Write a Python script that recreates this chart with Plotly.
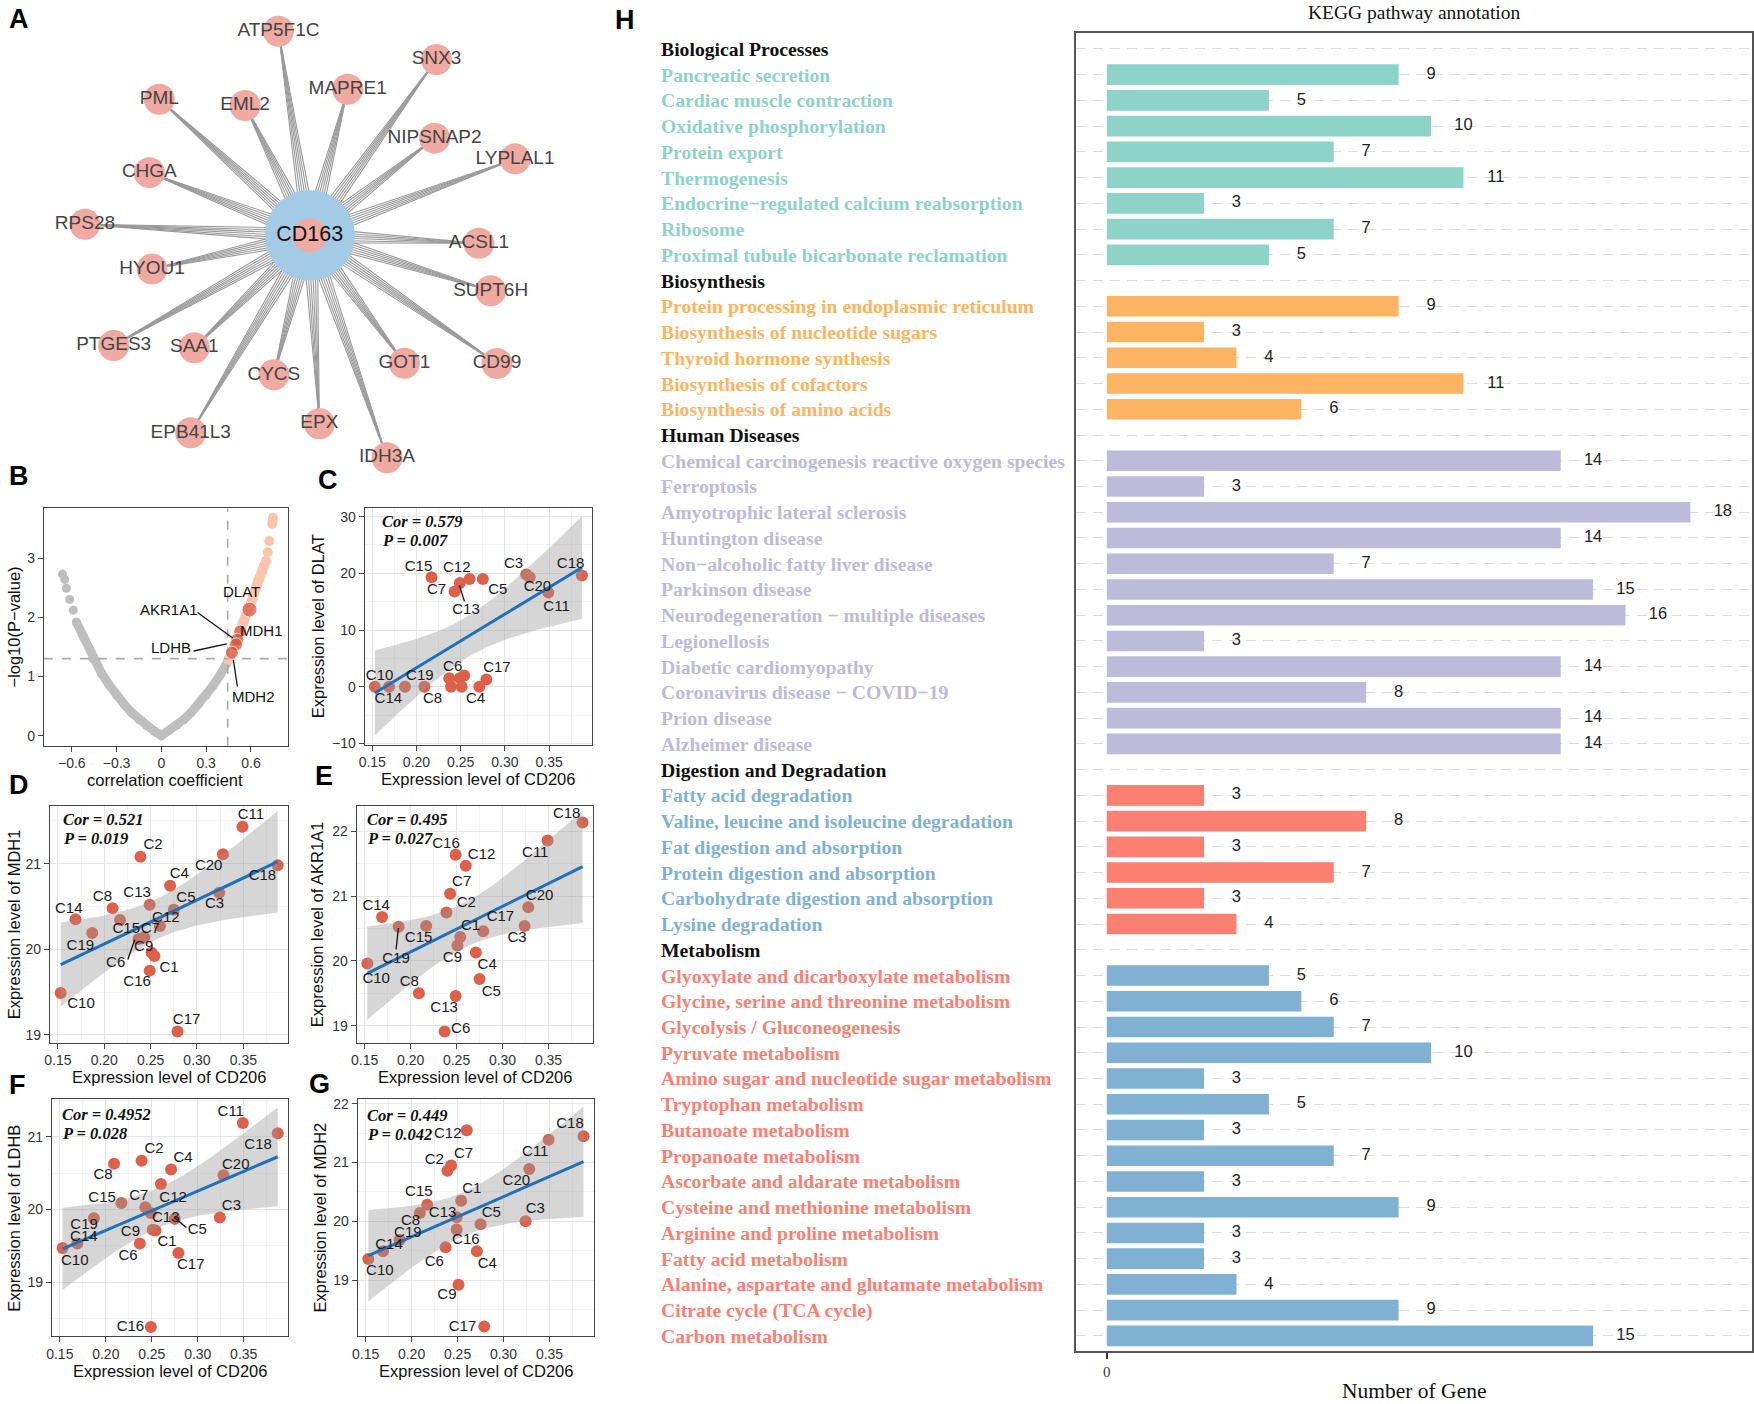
import numpy as np
import plotly.graph_objects as go

W, H = 1754, 1404
SANS = "Liberation Sans, Arial, sans-serif"
SERIF = "Liberation Serif, Times New Roman, serif"

# ---------------- Panel A: interaction network ----------------
hub_gene = "CD163"
partner_genes = ["ATP5F1C", "SNX3", "MAPRE1", "PML", "EML2", "NIPSNAP2", "LYPLAL1", "CHGA",
                 "RPS28", "ACSL1", "HYOU1", "SUPT6H", "PTGES3", "SAA1", "CYCS", "GOT1",
                 "CD99", "EPX", "EPB41L3", "IDH3A"]
partner_angle_deg = [98.7, 54.3, 75.5, 137.8, 116.4, 38.0, 20.5, 158.6, 177.2, -2.7, -167.9,
                     -17.1, -150.6, -135.7, -104.4, -53.6, -34.5, -87.1, -121.0, -70.9]
partner_distance = [208, 218, 152, 204, 146, 159, 220, 173, 226, 170, 162, 190, 226, 162,
                    145, 160, 228, 190, 232, 237]

# ---------------- Panel B: correlation volcano ----------------
grey_dense_r = [-0.57, -0.52, -0.46, -0.40, -0.35, -0.30, -0.25, -0.20, -0.15, -0.10, -0.05, 0.0,
                0.05, 0.10, 0.15, 0.20, 0.25, 0.30, 0.35, 0.40, 0.45]
grey_dense_y = [1.92, 1.66, 1.30, 1.05, 0.86, 0.68, 0.53, 0.39, 0.27, 0.17, 0.08, 0.0,
                0.08, 0.17, 0.27, 0.39, 0.53, 0.68, 0.86, 1.05, 1.28]
grey_sparse_r = [-0.662, -0.647, -0.636, -0.614, -0.590]
grey_sparse_y = [2.73, 2.64, 2.49, 2.30, 2.12]
pink_dense_r = [0.45, 0.50, 0.55, 0.60, 0.65, 0.69]
pink_dense_y = [1.28, 1.58, 1.90, 2.25, 2.62, 2.88]
pink_sparse_r = [0.700, 0.712, 0.722, 0.742, 0.745, 0.748]
pink_sparse_y = [2.95, 3.10, 3.29, 3.58, 3.62, 3.68]
hit_genes = ["DLAT", "MDH1", "AKR1A1", "LDHB", "MDH2"]
hit_r = [0.590, 0.528, 0.508, 0.500, 0.472]
hit_logp = [2.13, 1.76, 1.62, 1.54, 1.40]
r_cutoff = 0.444
logp_cutoff = 1.301

# ---------------- Panels C-G: sample-level correlations ----------------
samples = ["C%d" % i for i in range(1, 21)]
cd206 = [0.254, 0.239, 0.324, 0.271, 0.275, 0.237, 0.243, 0.209, 0.251, 0.153,
         0.349, 0.260, 0.249, 0.169, 0.217, 0.249, 0.279, 0.387, 0.187, 0.328]
dlat = [2.0, 0.0, 19.8, 0.0, 19.0, 1.5, 16.8, 0.0, 0.0, 0.0,
        16.6, 19.0, 18.3, 0.0, 19.3, 1.5, 1.3, 19.6, 0.0, 19.3]
mdh1 = [19.92, 21.08, 20.66, 20.74, 20.46, 20.12, 20.14, 20.48, 19.96, 19.49,
        21.43, 20.27, 20.52, 20.35, 20.34, 19.75, 19.04, 20.98, 20.19, 21.11]
akr1a1 = [20.37, 20.75, 20.54, 20.13, 19.72, 18.91, 21.04, 19.50, 20.24, 19.96,
          21.86, 21.47, 19.46, 20.68, 20.54, 21.64, 20.46, 22.14, 20.53, 20.83]
ldhb = [19.71, 20.67, 19.89, 20.55, 19.87, 19.53, 20.03, 20.63, 19.72, 19.47,
        21.19, 20.35, 19.95, 19.53, 20.09, 18.38, 19.40, 21.05, 19.88, 20.47]
mdh2 = [20.35, 20.86, 20.00, 19.49, 19.95, 19.56, 20.95, 20.14, 18.92, 19.36,
        21.39, 21.55, 20.07, 19.49, 20.28, 19.86, 18.21, 21.45, 19.68, 20.89]
cor_texts = ["Cor = 0.579", "Cor = 0.521", "Cor = 0.495", "Cor = 0.4952", "Cor = 0.449"]
p_texts = ["P = 0.007", "P = 0.019", "P = 0.027", "P = 0.028", "P = 0.042"]

# ---------------- Panel H: KEGG annotation ----------------
group_names = ["Biological Processes", "Biosynthesis", "Human Diseases",
               "Digestion and Degradation", "Metabolism"]
bp_terms = ["Pancreatic secretion", "Cardiac muscle contraction", "Oxidative phosphorylation",
            "Protein export", "Thermogenesis", "Endocrine\u2212regulated calcium reabsorption",
            "Ribosome", "Proximal tubule bicarbonate reclamation"]
bp_counts = [9, 5, 10, 7, 11, 3, 7, 5]
bio_terms = ["Protein processing in endoplasmic reticulum", "Biosynthesis of nucleotide sugars",
             "Thyroid hormone synthesis", "Biosynthesis of cofactors", "Biosynthesis of amino acids"]
bio_counts = [9, 3, 4, 11, 6]
hd_terms = ["Chemical carcinogenesis reactive oxygen species", "Ferroptosis",
            "Amyotrophic lateral sclerosis", "Huntington disease",
            "Non\u2212alcoholic fatty liver disease", "Parkinson disease",
            "Neurodegeneration \u2212 multiple diseases", "Legionellosis",
            "Diabetic cardiomyopathy", "Coronavirus disease \u2212 COVID\u221219",
            "Prion disease", "Alzheimer disease"]
hd_counts = [14, 3, 18, 14, 7, 15, 16, 3, 14, 8, 14, 14]
dd_terms = ["Fatty acid degradation", "Valine, leucine and isoleucine degradation",
            "Fat digestion and absorption", "Protein digestion and absorption",
            "Carbohydrate digestion and absorption", "Lysine degradation"]
dd_counts = [3, 8, 3, 7, 3, 4]
met_terms = ["Glyoxylate and dicarboxylate metabolism", "Glycine, serine and threonine metabolism",
             "Glycolysis / Gluconeogenesis", "Pyruvate metabolism",
             "Amino sugar and nucleotide sugar metabolism", "Tryptophan metabolism",
             "Butanoate metabolism", "Propanoate metabolism", "Ascorbate and aldarate metabolism",
             "Cysteine and methionine metabolism", "Arginine and proline metabolism",
             "Fatty acid metabolism", "Alanine, aspartate and glutamate metabolism",
             "Citrate cycle (TCA cycle)", "Carbon metabolism"]
met_counts = [5, 6, 7, 10, 3, 5, 3, 7, 3, 9, 3, 3, 4, 9, 15]

# ---------------- styles ----------------
TEAL, ORANGE, LAV, SALMON, BLUEG = "#8DD3C7", "#FDB462", "#BEBADA", "#FB8072", "#80B1D3"
group_terms = [bp_terms, bio_terms, hd_terms, dd_terms, met_terms]
group_counts = [bp_counts, bio_counts, hd_counts, dd_counts, met_counts]
bar_colors = [TEAL, ORANGE, LAV, SALMON, BLUEG]
label_colors = [TEAL, ORANGE, LAV, BLUEG, SALMON]
POINT = "#DE5F4A"
LINE_BLUE = "#1F72B8"


def xd(a, b):
    return [a / W, b / W]


def yd(a, b):
    return [1 - b / H, 1 - a / H]


def PX(x):
    return x / W


def PY(y):
    return 1 - y / H


def paper_text(x, y, text, font, angle=0, xanchor="center", align="center"):
    return dict(x=PX(x), y=PY(y), xref="paper", yref="paper", text=text, showarrow=False,
                xanchor=xanchor, yanchor="middle", textangle=angle, font=font, align=align)


fig = go.Figure()
axes = {}
ann = []
shapes = []

# ================= Panel A =================
ang = np.radians(partner_angle_deg)
dist = np.array(partner_distance, dtype=float)
nx = dist * np.cos(ang)
ny = dist * np.sin(ang)
ex, ey = [], []
for x1, y1 in zip(nx, ny):
    L = np.hypot(x1, y1)
    ux, uy = x1 / L, y1 / L
    qx, qy = -uy, ux
    for o in (-6, -3.6, -1.2, 1.2, 3.6, 6):
        ex += [x1, ux * 38 + qx * o, None]
        ey += [y1, uy * 38 + qy * o, None]
fig.add_trace(go.Scatter(x=ex, y=ey, mode="lines", line=dict(color="#999999", width=1.1),
                         xaxis="x", yaxis="y", hoverinfo="skip"))
fig.add_trace(go.Scatter(x=[0], y=[0], mode="markers", marker=dict(size=90, color="#A3CBE6"),
                         xaxis="x", yaxis="y", hoverinfo="skip"))
fig.add_trace(go.Scatter(x=[0], y=[0], mode="markers+text", text=[hub_gene],
                         marker=dict(size=34, color="#F0AAA2"),
                         textfont=dict(family=SANS, size=21.5, color="#111"),
                         textposition="middle center", xaxis="x", yaxis="y"))
fig.add_trace(go.Scatter(x=nx, y=ny, mode="markers+text", text=partner_genes,
                         marker=dict(size=31, color="#F0AAA2"),
                         textfont=dict(family=SANS, size=19, color="#444"),
                         textposition="middle center", xaxis="x", yaxis="y", cliponaxis=False))
axes["xaxis"] = dict(domain=xd(0, 560), range=[-305, 255], visible=False, anchor="y")
axes["yaxis"] = dict(domain=yd(0, 480), range=[-246, 234], visible=False, anchor="x")

# ================= Panel B =================
fig.add_trace(go.Scatter(x=grey_dense_r, y=grey_dense_y, mode="lines+markers",
                         line=dict(color="#BEBEBE", width=9), marker=dict(size=9, color="#BEBEBE"),
                         xaxis="x2", yaxis="y2"))
fig.add_trace(go.Scatter(x=grey_sparse_r, y=grey_sparse_y, mode="markers",
                         marker=dict(size=9, color="#BEBEBE"), xaxis="x2", yaxis="y2"))
fig.add_trace(go.Scatter(x=pink_dense_r, y=pink_dense_y, mode="lines+markers",
                         line=dict(color="#FCC4AC", width=10), marker=dict(size=10, color="#FCC4AC"),
                         xaxis="x2", yaxis="y2"))
fig.add_trace(go.Scatter(x=pink_sparse_r, y=pink_sparse_y, mode="markers",
                         marker=dict(size=10, color="#FCC4AC"), xaxis="x2", yaxis="y2"))
fig.add_trace(go.Scatter(x=[-0.787, 0.847], y=[logp_cutoff] * 2, mode="lines",
                         line=dict(color="#AAAAAA", width=1.6, dash="dash"), xaxis="x2", yaxis="y2"))
fig.add_trace(go.Scatter(x=[r_cutoff] * 2, y=[-0.17, 3.84], mode="lines",
                         line=dict(color="#AAAAAA", width=1.6, dash="dash"), xaxis="x2", yaxis="y2"))
fig.add_trace(go.Scatter(x=hit_r, y=hit_logp, mode="markers",
                         marker=dict(size=[15, 13, 13, 13, 13], color="#D9533D"),
                         xaxis="x2", yaxis="y2"))
b_lab = {"DLAT": (0.538, 2.43), "AKR1A1": (0.049, 2.13), "LDHB": (0.065, 1.49),
         "MDH1": (0.671, 1.77), "MDH2": (0.616, 0.66)}
for g in hit_genes:
    ann.append(dict(x=b_lab[g][0], y=b_lab[g][1], xref="x2", yref="y2", text=g, showarrow=False,
                    xanchor="center", yanchor="middle",
                    font=dict(family=SANS, size=15, color="#111")))
for (a, b, c, d) in [(0.242, 2.08, 0.478, 1.65), (0.216, 1.43, 0.438, 1.55), (0.482, 1.28, 0.509, 0.83)]:
    shapes.append(dict(type="line", xref="x2", yref="y2", x0=a, y0=b, x1=c, y1=d,
                       line=dict(color="#111", width=1.3)))
common_axis = dict(showline=True, mirror=True, linecolor="#444", linewidth=1, ticks="outside",
                   ticklen=5, tickcolor="#444", tickfont=dict(family=SANS, size=14, color="#333"),
                   zeroline=False)
axes["xaxis2"] = dict(domain=xd(38, 283), range=[-0.787, 0.847], anchor="y2", showgrid=False,
                      tickvals=[-0.6, -0.3, 0, 0.3, 0.6], **common_axis)
axes["yaxis2"] = dict(domain=yd(509, 748), range=[-0.17, 3.84], anchor="x2", showgrid=False,
                      tickvals=[0, 1, 2, 3], **common_axis)
TITLE_FONT = dict(family=SANS, size=16.5, color="#111")
ann.append(paper_text(160, 783, "correlation coefficient", TITLE_FONT))
ann.append(paper_text(8, 628, "\u2212log10(P\u2212value)", TITLE_FONT, angle=-90))

# ================= Panels C-G =================
LAB_C = [None, None, (0.3098, 21.65), (0.2667, -2.17), (0.292, 17.09), (0.2409, 3.49),
         (0.2227, 17.09), (0.2182, -2.17), None, (0.1583, 1.91), (0.3583, 14.06), (0.2455, 20.95),
         (0.256, 13.47), (0.1682, -2.17), (0.2023, 21.07), None, (0.2909, 3.26), (0.3742, 21.53),
         (0.2038, 1.91), (0.3367, 17.56)]
LAB_D = [(0.2699, 19.78), (0.2527, 21.22), (0.319, 20.52), (0.281, 20.87), (0.2881, 20.59),
         (0.2123, 19.84), (0.2496, 20.23), (0.198, 20.61), (0.2425, 20.02), (0.1749, 19.36),
         (0.3582, 21.56), (0.2664, 20.36), (0.2354, 20.65), (0.1617, 20.47), (0.2237, 20.23),
         (0.2354, 19.61), (0.2888, 19.17), (0.3706, 20.85), (0.1742, 20.04), (0.3126, 20.97)]
LAB_E = [(0.2653, 20.54), (0.2606, 20.89), (0.3158, 20.35), (0.2833, 19.94), (0.2877, 19.51),
         (0.2545, 18.95), (0.2556, 21.22), (0.1986, 19.67), (0.2455, 20.04), (0.1626, 19.72),
         (0.3356, 21.66), (0.2772, 21.64), (0.2365, 19.27), (0.1626, 20.85), (0.2087, 20.35),
         (0.2385, 21.81), (0.2977, 20.67), (0.3698, 22.27), (0.1842, 20.03), (0.3403, 21.0)]
LAB_F = [(0.2667, 19.55), (0.2525, 20.83), (0.3366, 20.04), (0.2841, 20.70), (0.2996, 19.71),
         (0.2243, 19.36), (0.2359, 20.18), (0.1971, 20.47), (0.2268, 19.68), (0.1663, 19.28),
         (0.3359, 21.34), (0.2732, 20.16), (0.2652, 19.88), (0.1761, 19.62), (0.196, 20.16),
         (0.2268, 18.37), (0.2924, 19.23), (0.3656, 20.89), (0.1764, 19.78), (0.3413, 20.61)]
LAB_G = [(0.2655, 20.55), (0.2248, 21.04), (0.3345, 20.2), (0.2824, 19.27), (0.2867, 20.14),
         (0.2248, 19.31), (0.2565, 21.14), (0.1989, 20.0), (0.2385, 18.74), (0.1655, 19.15),
         (0.3345, 21.18), (0.2394, 21.49), (0.2338, 20.14), (0.1755, 19.6), (0.2079, 20.49),
         (0.259, 19.68), (0.2554, 18.2), (0.3723, 21.65), (0.196, 19.8), (0.314, 20.69)]

panels = [
    dict(k=3, box=(360, 588, 509, 747), y=dlat, yr=[-10.2, 31.45], yt=[-10, 0, 10, 20, 30],
         ym=[-5, 5, 15, 25], ylab="Expression level of DLAT", lab=LAB_C,
         segs=[(0.2485, 17.85, 0.2542, 15.05)], cor=(375, 522), ylx=313),
    dict(k=4, box=(44, 283, 809, 1047), y=mdh1, yr=[18.91, 21.67], yt=[19, 20, 21],
         ym=[19.5, 20.5, 21.5], ylab="Expression level of MDH1", lab=LAB_D,
         segs=[(0.2254, 19.88, 0.2329, 20.11)], cor=(55, 822), ylx=8),
    dict(k=5, box=(352, 589, 809, 1047), y=akr1a1, yr=[18.74, 22.39], yt=[19, 20, 21, 22],
         ym=[19.5, 20.5, 21.5], ylab="Expression level of AKR1A1", lab=LAB_E,
         segs=[(0.1868, 20.51, 0.1842, 20.18)], cor=(360, 822), ylx=313),
    dict(k=6, box=(46, 283, 1104, 1343), y=ldhb, yr=[18.25, 21.52], yt=[19, 20, 21],
         ym=[18.5, 19.5, 20.5, 21.5], ylab="Expression level of LDHB", lab=LAB_F,
         segs=[(0.2743, 19.89, 0.2877, 19.75)], cor=(54, 1119), ylx=8),
    dict(k=7, box=(353, 590, 1104, 1343), y=mdh2, yr=[18.04, 22.08], yt=[19, 20, 21, 22],
         ym=[18.5, 19.5, 20.5, 21.5], ylab="Expression level of MDH2", lab=LAB_G,
         segs=[], cor=(360, 1120), ylx=315),
]
XR = [0.1413, 0.3980]
XT = [0.15, 0.20, 0.25, 0.30, 0.35]


def fit_band(x, y, n=80):
    x = np.asarray(x, float)
    y = np.asarray(y, float)
    b1, b0 = np.polyfit(x, y, 1)
    xs = np.linspace(x.min(), x.max(), n)
    yhat = b0 + b1 * xs
    res = y - (b0 + b1 * x)
    s = np.sqrt(np.sum(res ** 2) / (len(x) - 2))
    sxx = np.sum((x - x.mean()) ** 2)
    se = s * np.sqrt(1 / len(x) + (xs - x.mean()) ** 2 / sxx)
    t = 2.100922
    return xs, yhat, yhat - t * se, yhat + t * se


COR_FONT = dict(family=SERIF, size=16.5, color="#111")
for i, cfg in enumerate(panels):
    k = cfg["k"]
    xa, ya = "x%d" % k, "y%d" % k
    x0, x1, y0, y1 = cfg["box"]
    fig.add_trace(go.Scatter(x=cd206, y=cfg["y"], mode="markers",
                             marker=dict(size=12, color=POINT), xaxis=xa, yaxis=ya))
    xs, yhat, lo, hi = fit_band(cd206, cfg["y"])
    fig.add_trace(go.Scatter(x=np.concatenate([xs, xs[::-1]]), y=np.concatenate([hi, lo[::-1]]),
                             mode="lines", fill="toself", fillcolor="rgba(153,153,153,0.4)",
                             line=dict(width=0), xaxis=xa, yaxis=ya, hoverinfo="skip"))
    fig.add_trace(go.Scatter(x=xs, y=yhat, mode="lines", line=dict(color=LINE_BLUE, width=3),
                             xaxis=xa, yaxis=ya))
    lx = [p[0] for p in cfg["lab"] if p]
    ly = [p[1] for p in cfg["lab"] if p]
    lt = [s for s, p in zip(samples, cfg["lab"]) if p]
    fig.add_trace(go.Scatter(x=lx, y=ly, text=lt, mode="text", cliponaxis=False,
                             textfont=dict(family=SANS, size=15, color="#1A1A1A"),
                             xaxis=xa, yaxis=ya))
    for (a, b, c, d) in cfg["segs"]:
        shapes.append(dict(type="line", xref=xa, yref=ya, x0=a, y0=b, x1=c, y1=d,
                           line=dict(color="#111", width=1.3)))
    grid = dict(showgrid=True, gridcolor="#E6E6E6", gridwidth=1)
    axes["xaxis%d" % k] = dict(domain=xd(x0, x1), range=XR, anchor=ya, tickvals=XT,
                               ticktext=["0.15", "0.20", "0.25", "0.30", "0.35"],
                               minor=dict(tickvals=[0.175, 0.225, 0.275, 0.325, 0.375],
                                          showgrid=True, gridcolor="#F3F3F3"),
                               **grid, **common_axis)
    axes["yaxis%d" % k] = dict(domain=yd(y0, y1), range=cfg["yr"], anchor=xa, tickvals=cfg["yt"],
                               minor=dict(tickvals=cfg["ym"], showgrid=True, gridcolor="#F3F3F3"),
                               **grid, **common_axis)
    cxp, cyp = cfg["cor"]
    ann.append(paper_text(cxp, cyp, "<b><i>%s</i></b>" % cor_texts[i], COR_FONT, xanchor="left"))
    ann.append(paper_text(cxp, cyp + 19.5, "<b><i>%s</i></b>" % p_texts[i], COR_FONT,
                          xanchor="left"))
    ann.append(paper_text((x0 + x1) / 2, y1 + 35, "Expression level of CD206", TITLE_FONT))
    ann.append(paper_text(cfg["ylx"], (y0 + y1) / 2, cfg["ylab"], TITLE_FONT, angle=-90))

# ================= Panel H =================
row_y, row_val, row_bc = [], [], []
row = 0
LABEL_X = 656
for gi, gname in enumerate(group_names):
    ann.append(dict(x=PX(LABEL_X), y=row, xref="paper", yref="y8", xanchor="left",
                    yanchor="middle", text="<b>%s</b>" % gname, showarrow=False,
                    font=dict(family=SERIF, size=19.7, color="#111")))
    row += 1
    for term, cnt in zip(group_terms[gi], group_counts[gi]):
        ann.append(dict(x=PX(LABEL_X), y=row, xref="paper", yref="y8", xanchor="left",
                        yanchor="middle", text="<b>%s</b>" % term, showarrow=False,
                        font=dict(family=SERIF, size=19.7, color=label_colors[gi])))
        row_y.append(row)
        row_val.append(cnt)
        row_bc.append(bar_colors[gi])
        row += 1
n_rows = row
fig.add_trace(go.Bar(x=row_val, y=row_y, orientation="h", width=0.8,
                     marker=dict(color=row_bc, line=dict(width=0)), xaxis="x8", yaxis="y8"))
fig.add_trace(go.Scatter(x=[v + 1 for v in row_val], y=row_y, text=[str(v) for v in row_val],
                         mode="text", textfont=dict(family=SANS, size=16.5, color="#222"),
                         xaxis="x8", yaxis="y8", cliponaxis=False))
axes["xaxis8"] = dict(domain=xd(1074.6, 1753), range=[-0.94, 19.9], anchor="y8", tickvals=[0],
                      ticktext=["0"], ticks="outside", ticklen=6, tickwidth=1.5, tickcolor="#333",
                      tickfont=dict(family=SERIF, size=15, color="#333"), showgrid=False,
                      zeroline=False, showline=True, mirror=True, linecolor="#555", linewidth=1.5)
axes["yaxis8"] = dict(domain=yd(30.7, 1358), range=[n_rows - 0.4, -0.6], anchor="x8",
                      tickvals=list(range(n_rows)), showticklabels=False, ticks="",
                      showgrid=True, gridcolor="#DCDCDC", gridwidth=1.3, griddash="10px,7px",
                      zeroline=False, showline=True, mirror=True, linecolor="#555", linewidth=1.5)
ann.append(paper_text(1414, 10, "KEGG pathway annotation", dict(family=SERIF, size=19.5, color="#111")))
ann.append(paper_text(1414, 1398, "Number of Gene", dict(family=SERIF, size=21.5, color="#111")))

# ================= panel letters =================
LETTER_FONT = dict(family=SANS, size=27, color="#000")
for letter, (lx_, ly_) in {"A": (13, 16), "B": (13, 476), "C": (323, 480), "D": (13, 788),
                           "E": (319, 779), "F": (12, 1090), "G": (315, 1089),
                           "H": (621, 17)}.items():
    ann.append(paper_text(lx_, ly_, "<b>%s</b>" % letter, LETTER_FONT))

fig.update_layout(**axes, annotations=ann, shapes=shapes, width=W, height=H,
                  margin=dict(l=0, r=0, t=0, b=0), showlegend=False,
                  plot_bgcolor="white", paper_bgcolor="white")
fig.write_html("out.html", config={"displayModeBar": False},
               post_script="document.body.style.margin='0';")
